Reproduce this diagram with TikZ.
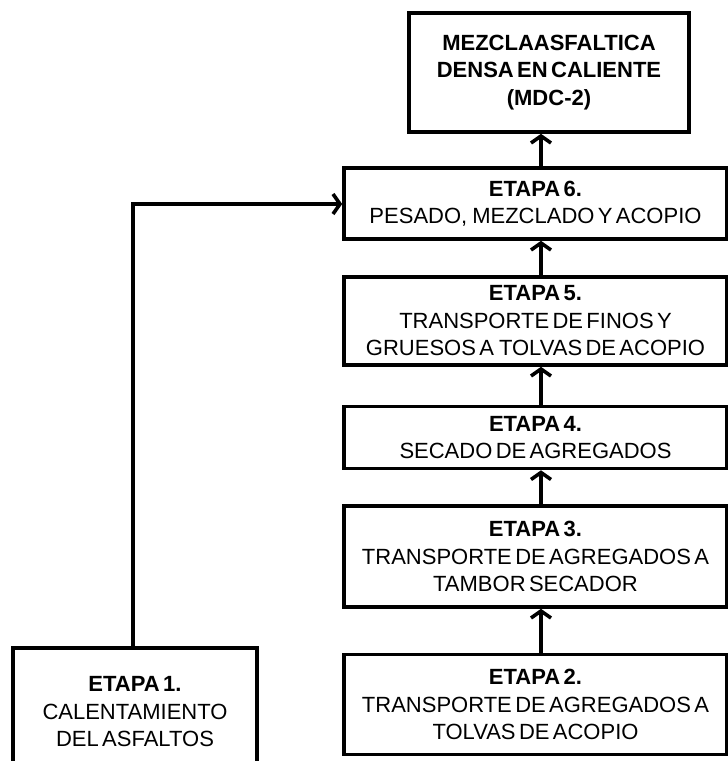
\documentclass[tikz,border=0pt]{standalone}
\usepackage{fontspec}
\setmainfont{Liberation Sans}[WordSpace=0.55]
\usetikzlibrary{arrows.meta}

\begin{document}
\begin{tikzpicture}[x=1pt,y=-1pt,
  stage/.style={draw=black, line width=3.6pt, align=center, inner sep=0pt,
    font=\fontsize{22}{27.5}\selectfont},
  flow/.style={line width=3.6pt, -{Straight Barb[length=7pt,width=20pt,line width=3.6pt]}}]
  \useasboundingbox (0,0) rectangle (728,761);

  % right column of stages, bottom to top
  \node[stage, minimum width=280pt, minimum height=119pt] (mdc) at (549,72.5)
    {\textbf{MEZCLAASFALTICA}\\\textbf{DENSA EN CALIENTE}\\\textbf{(MDC-2)}};
  \node[stage, minimum width=383pt, minimum height=71pt] (e6) at (535.5,203.5)
    {\textbf{ETAPA 6.}\\PESADO,\hspace{5pt}MEZCLADO Y ACOPIO};
  \node[stage, minimum width=383pt, minimum height=88pt] (e5) at (535.5,321)
    {\textbf{ETAPA 5.}\\TRANSPORTE DE FINOS Y\\GRUESOS A\hspace{5pt}TOLVAS DE ACOPIO};
  \node[stage, minimum width=383pt, minimum height=62pt] (e4) at (535.5,437.5)
    {\textbf{ETAPA 4.}\\SECADO DE AGREGADOS};
  \node[stage, minimum width=383pt, minimum height=101pt] (e3) at (535.5,556.5)
    {\textbf{ETAPA 3.}\\TRANSPORTE DE AGREGADOS A\\TAMBOR SECADOR};
  \node[stage, minimum width=383pt, minimum height=100pt] (e2) at (535.5,704.5)
    {\textbf{ETAPA 2.}\\TRANSPORTE DE AGREGADOS A\\TOLVAS DE ACOPIO};

  % left stage, running past the lower edge
  \node[stage, minimum width=244pt, minimum height=128pt] (e1) at (135,712)
    {\textbf{ETAPA 1.}\\CALENTAMIENTO\\DEL ASFALTOS};

  % vertical line of arrows between the stacked stages
  \coordinate (spine) at (541,0);
  \draw[flow] (e2.north -| spine) -- (e3.south -| spine);
  \draw[flow] (e3.north -| spine) -- (e4.south -| spine);
  \draw[flow] (e4.north -| spine) -- (e5.south -| spine);
  \draw[flow] (e5.north -| spine) -- (e6.south -| spine);
  \draw[flow] (e6.north -| spine) -- (mdc.south -| spine);

  % asphalt heating feeds stage 6
  \coordinate (bend) at (133,204);
  \draw[flow] (e1.north -| bend) -- (bend) -- (e6.west |- bend);
\end{tikzpicture}
\end{document}
